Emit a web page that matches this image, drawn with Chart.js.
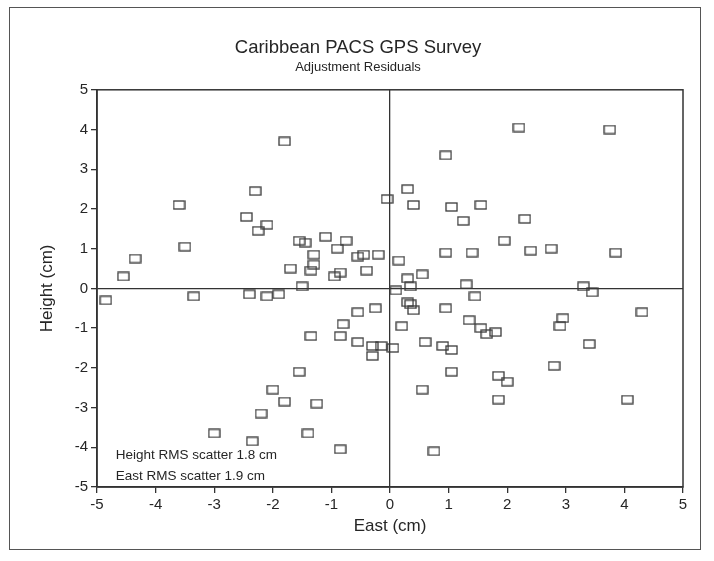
<!DOCTYPE html>
<html><head><meta charset="utf-8">
<script src="https://cdn.jsdelivr.net/npm/chart.js@4.4.0/dist/chart.umd.min.js"></script>
<style>
html,body{margin:0;padding:0;background:#fff;overflow:hidden;width:714px;height:561px;}
#wrap{position:absolute;left:0;top:0;width:736px;height:561px;}
#frame{position:absolute;left:9px;top:7px;width:690px;height:541px;border:1.5px solid #555;pointer-events:none;}
</style></head><body>
<div id="wrap"><canvas id="c" width="736" height="561"></canvas></div>
<div id="frame"></div>
<script>
const chartTitle = 'Caribbean PACS GPS Survey';
const chartSubtitle = 'Adjustment Residuals';
const xAxisTitle = 'East (cm)';
const yAxisTitle = 'Height (cm)';
const notes = ['Height RMS scatter 1.8 cm', 'East RMS scatter 1.9 cm'];

const eastValues = [
 -1.8,-2.3,-3.6,-2.45,-2.1,-2.25,-3.5,-4.35,-4.55,-1.55,-1.45,-1.1,-0.75,-0.9,-1.3,-1.3,-1.35,-1.7,-0.55,-0.45,-0.2,-0.85,-0.95,-0.4,-1.5,-0.05,
 2.2,3.75,0.95,0.3,0.4,1.05,1.55,1.25,2.3,1.95,0.95,1.4,2.4,2.75,3.85,0.15,0.55,0.3,0.35,0.1,1.3,3.3,
 1.45,3.45,0.3,0.35,0.4,0.95,0.2,1.35,1.55,1.65,1.8,2.95,2.9,4.3,0.6,0.9,1.05,0.05,3.4,2.8,1.05,1.85,2.0,0.55,1.85,4.05,0.75,
 -4.85,-3.35,-2.4,-2.1,-1.9,-0.25,-0.55,-0.8,-1.35,-0.85,-0.55,-0.3,-0.3,-0.15,-1.55,-2.0,-1.8,-1.25,-2.2,-3.0,-2.35,-1.4,-0.85
];
const heightValues = [
 3.7,2.45,2.1,1.8,1.6,1.45,1.05,0.75,0.3,1.2,1.15,1.3,1.2,1.0,0.85,0.6,0.45,0.5,0.8,0.85,0.85,0.4,0.3,0.45,0.05,2.25,
 4.05,4.0,3.35,2.5,2.1,2.05,2.1,1.7,1.75,1.2,0.9,0.9,0.95,1.0,0.9,0.7,0.35,0.25,0.05,-0.05,0.1,0.05,
 -0.2,-0.1,-0.35,-0.4,-0.55,-0.5,-0.95,-0.8,-1.0,-1.15,-1.1,-0.75,-0.95,-0.6,-1.35,-1.45,-1.55,-1.5,-1.4,-1.95,-2.1,-2.2,-2.35,-2.55,-2.8,-2.8,-4.1,
 -0.3,-0.2,-0.15,-0.2,-0.15,-0.5,-0.6,-0.9,-1.2,-1.2,-1.35,-1.45,-1.7,-1.45,-2.1,-2.55,-2.85,-2.9,-3.15,-3.65,-3.85,-3.65,-4.05
];
const axisMin = -5, axisMax = 5, axisStep = 1;

const points = eastValues.map((e, i) => ({x: e, y: heightValues[i]}));

// open rectangle marker
const marker = document.createElement('canvas');
marker.width = 13; marker.height = 10;
(function(){ const g = marker.getContext('2d'); g.strokeStyle = '#3a3a3a'; g.lineWidth = 1.3; g.strokeRect(1, 1, 11, 8); })();

const FONT = "'Liberation Sans', Arial, Helvetica, sans-serif";
const INK = '#262626';

const framePlugin = {
  id: 'frame',
  beforeDatasetsDraw(chart) {
    const {ctx, chartArea: a} = chart;
    ctx.save();
    ctx.strokeStyle = '#333'; ctx.lineWidth = 1.5;
    ctx.strokeRect(a.left, a.top, a.right - a.left, a.bottom - a.top);
    ctx.restore();
  }
};
const notesPlugin = {
  id: 'notes',
  afterDatasetsDraw(chart) {
    const {ctx, scales: {x, y}} = chart;
    ctx.save();
    ctx.font = '13.5px ' + FONT;
    ctx.fillStyle = INK;
    ctx.textAlign = 'left'; ctx.textBaseline = 'middle';
    const ys = [-4.2, -4.72];
    notes.forEach((t, i) => ctx.fillText(t, x.getPixelForValue(-4.68), y.getPixelForValue(ys[i])));
    ctx.restore();
  }
};

Chart.defaults.font.family = FONT;
Chart.defaults.color = INK;

const zeroGrid = ctx => (ctx.tick && ctx.tick.value === 0) ? '#333' : 'rgba(0,0,0,0)';

new Chart(document.getElementById('c'), {
  type: 'scatter',
  data: { datasets: [{ data: points, pointStyle: marker, pointRadius: 6, pointHoverRadius: 6 }] },
  options: {
    responsive: false,
    animation: false,
    layout: { padding: { top: 37, left: 33, right: 53, bottom: 20 } },
    plugins: {
      legend: { display: false },
      tooltip: { enabled: false },
      title: { display: true, text: chartTitle, font: { size: 18.5, weight: 'normal' }, color: INK, padding: { top: 0, bottom: 0 } },
      subtitle: { display: true, text: chartSubtitle, font: { size: 13, weight: 'normal' }, color: INK, padding: { top: 0, bottom: 15 } }
    },
    scales: {
      x: {
        type: 'linear', min: axisMin, max: axisMax,
        ticks: { stepSize: axisStep, color: INK, font: { size: 15 }, padding: 3, maxRotation: 0 },
        grid: { drawOnChartArea: true, color: zeroGrid, tickColor: '#333', tickLength: 6, lineWidth: 1.3 },
        border: { display: true, color: '#333', width: 1.5 },
        title: { display: true, text: xAxisTitle, font: { size: 17 }, color: INK, padding: { top: 2, bottom: 4 } },
        afterFit: s => { s.height = 54; }
      },
      y: {
        type: 'linear', min: axisMin, max: axisMax,
        ticks: { stepSize: axisStep, color: INK, font: { size: 15 }, padding: 3 },
        grid: { drawOnChartArea: true, color: zeroGrid, tickColor: '#333', tickLength: 6, lineWidth: 1.3 },
        border: { display: true, color: '#333', width: 1.5 },
        title: { display: true, text: yAxisTitle, font: { size: 17 }, color: INK, padding: { top: 4, bottom: 4 } },
        afterFit: s => { s.width = 64; }
      }
    }
  },
  plugins: [framePlugin, notesPlugin]
});
</script>
</body></html>
